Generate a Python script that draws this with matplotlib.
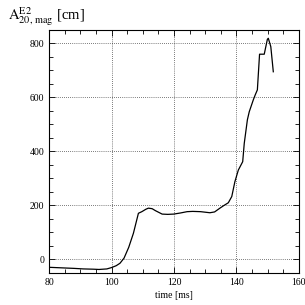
import matplotlib
matplotlib.use("Agg")
import matplotlib.pyplot as plt
from matplotlib.ticker import MultipleLocator

plt.rcParams['font.family'] = ['Liberation Serif', 'DejaVu Serif']
plt.rcParams['mathtext.fontset'] = 'stix'

# time [ms] and amplitude [cm]
time = [80, 84, 88, 91, 94.2, 96, 98.5, 100, 101.5, 102.7, 104, 105.5, 107, 108.6,
        109.7, 111, 111.8, 113, 114, 116.2, 118, 119.9, 122, 124.2, 126, 128.5,
        131.5, 133, 134.7, 136, 137.4, 138.5, 139.5, 140.6, 142, 142.5, 143.5,
        144.1, 145.4, 146, 146.7, 147.4, 148.9, 149.9, 150.2, 151, 151.8]
amp = [-29, -31, -33, -35, -36, -37, -35, -30, -23, -14, 5, 45, 97, 171,
       177, 186, 190, 188, 181, 168, 167, 168, 172, 177, 178, 177,
       173, 176, 190, 200, 210, 233, 288, 331, 362, 430, 517,
       547, 591, 609, 628, 760, 760, 815, 819, 788, 695]

fig = plt.figure(figsize=(3.05, 3.05), dpi=100, facecolor="white")
ax = fig.add_axes([0.161, 0.105, 0.819, 0.797])

ax.plot(time, amp, color="black", linewidth=0.9)

ax.set_xlim(80, 160)
ax.set_ylim(-50, 850)
ax.xaxis.set_major_locator(MultipleLocator(20))
ax.xaxis.set_minor_locator(MultipleLocator(5))
ax.yaxis.set_major_locator(MultipleLocator(200))
ax.yaxis.set_minor_locator(MultipleLocator(50))
ax.tick_params(which="both", direction="in", top=True, right=True, labelsize=7, width=0.6)
ax.tick_params(which="major", length=4)
ax.tick_params(which="minor", length=3)
ax.grid(True, which="major", color="black", linestyle=(0, (1, 2)), linewidth=0.5)
for s in ax.spines.values():
    s.set_linewidth(0.8)

ax.set_xlabel("time [ms]", fontsize=7, labelpad=3)
fig.text(0.025, 0.945, r"$\mathrm{A}^{\mathrm{E2}}_{\mathrm{20,\,mag}}$ [cm]", fontsize=10.5, va="center")

fig.savefig("out.png", dpi=100)
